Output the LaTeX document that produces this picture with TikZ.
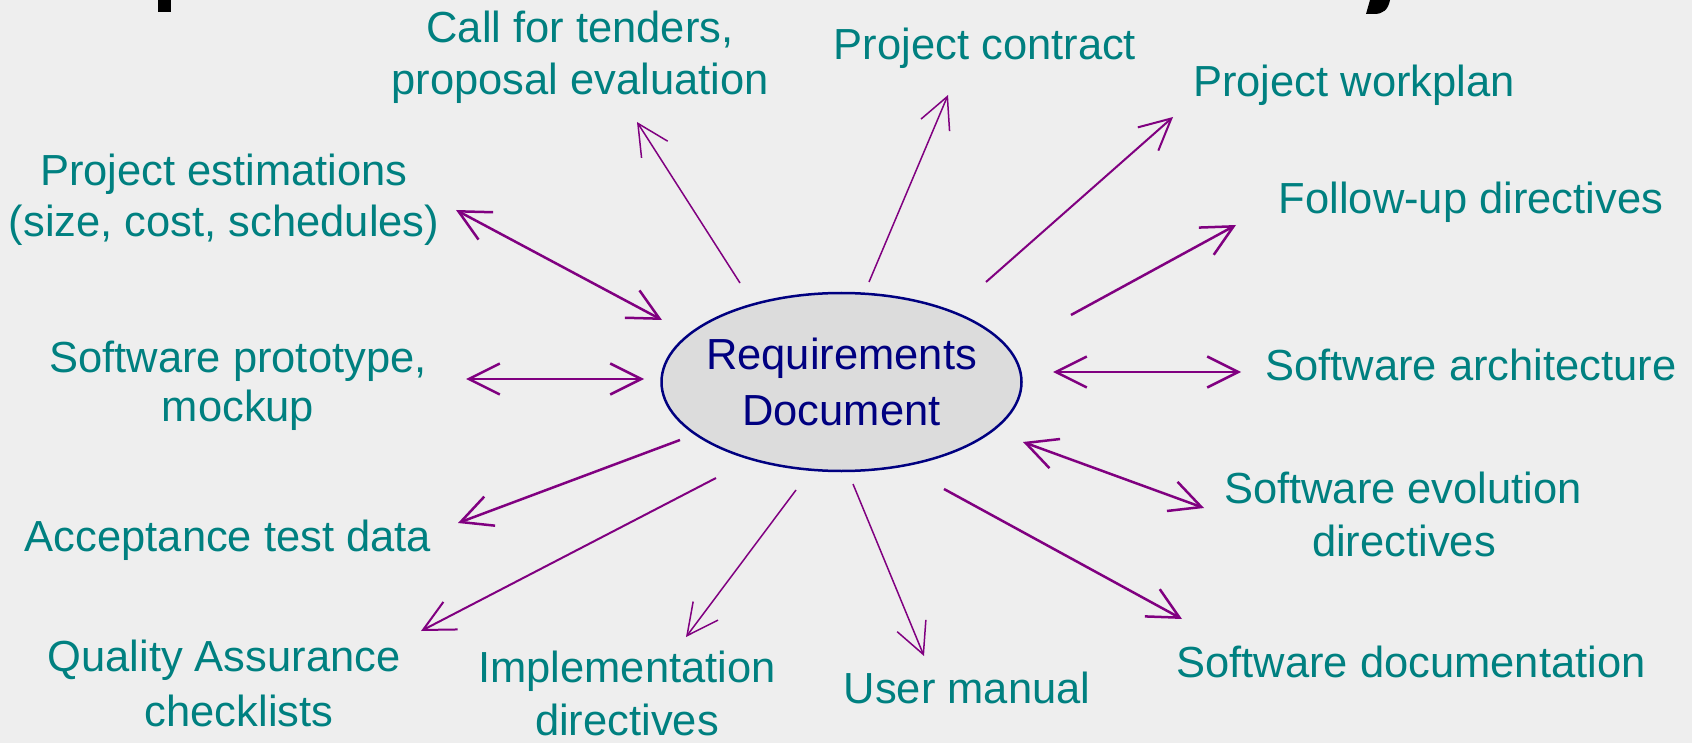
\documentclass[tikz,border=0pt]{standalone}
\usepackage{fontspec}
\setmainfont{Liberation Sans}
\usetikzlibrary{arrows.meta,shapes.geometric}
\definecolor{bg}{RGB}{238,238,238}
\definecolor{tealtxt}{RGB}{0,128,128}
\definecolor{navytxt}{RGB}{0,0,128}
\definecolor{purp}{RGB}{128,0,128}
\definecolor{ellfill}{RGB}{220,220,220}
\begin{document}
\begin{tikzpicture}[x=1pt,y=-1pt,
  lbl/.style={text=tealtxt, font=\fontsize{43.5}{53}\selectfont, anchor=base, inner sep=0pt},
  conn/.style={draw=purp, line width=2pt, -{Straight Barb[length=31pt,width=31pt]}},
  biconn/.style={draw=purp, line width=2.5pt, {Straight Barb[length=31pt,width=31pt]}-{Straight Barb[length=31pt,width=31pt]}},
  thin/.style={line width=1.5pt},
  thick/.style={line width=2.5pt}
]
\fill[bg] (0,0) rectangle (1692,743);
\useasboundingbox (0,0) rectangle (1692,743);

% cut-off title fragments
\fill[black] (158,0) rectangle (171,12);
\fill[black] (1370,0) -- (1390,0) .. controls (1388,10) and (1383,14) .. (1374,14) -- (1366,14) -- (1368,7) -- cycle;

% central ellipse
\node[ellipse, draw=navytxt, fill=ellfill, line width=2.5pt, minimum width=360pt, minimum height=178pt,
      inner xsep=-12pt, inner ysep=0pt, align=center, text=navytxt, font=\fontsize{43.5}{56}\selectfont] (req) at (841.5,382)
      {Requirements\\Document};

% labels
\node[lbl] (cft1) at (580,43) {Call for tenders,};
\node[lbl] (cft2) at (580,95) {proposal evaluation};
\node[lbl] (pc) at (985,60) {Project contract};
\node[lbl] (pw) at (1354,97) {Project workplan};
\node[lbl] (pe1) at (224,186) {Project estimations};
\node[lbl] (pe2) at (224,237) {(size, cost, schedules)};
\node[lbl] (fu) at (1471,214) {Follow-up directives};
\node[lbl] (sp1) at (238,372) {Software prototype,};
\node[lbl] (sp2) at (238,421) {mockup};
\node[lbl] (sa) at (1471,380) {Software architecture};
\node[lbl] (se1) at (1403,503) {Software evolution};
\node[lbl] (se2) at (1404,556) {directives};
\node[lbl] (at) at (228,551) {Acceptance test data};
\node[lbl] (qa1) at (224,671) {Quality Assurance};
\node[lbl] (qa2) at (239,726) {checklists};
\node[lbl] (im1) at (627,682) {Implementation};
\node[lbl] (im2) at (627,735) {directives};
\node[lbl] (um) at (967,703) {User manual};
\node[lbl] (sd) at (1411,677) {Software documentation};

% connector end points
\coordinate (a1s) at (740,283);  \coordinate (a1e) at (637,122);
\coordinate (a2s) at (869,282);  \coordinate (a2e) at (948,95);
\coordinate (a3s) at (986,282);  \coordinate (a3e) at (1173,117);
\coordinate (a4s) at (1071,315); \coordinate (a4e) at (1236,225);
\coordinate (a5s) at (1053,372); \coordinate (a5e) at (1241,372);
\coordinate (a6s) at (1023,442); \coordinate (a6e) at (1204,508);
\coordinate (a7s) at (944,489);  \coordinate (a7e) at (1182,619);
\coordinate (a8s) at (853,484);  \coordinate (a8e) at (924,656);
\coordinate (a9s) at (796,490);  \coordinate (a9e) at (686,637);
\coordinate (a10s) at (716,478); \coordinate (a10e) at (421,631);
\coordinate (a11s) at (680,440); \coordinate (a11e) at (458,523);
\coordinate (a12s) at (644,379); \coordinate (a12e) at (466,379);
\coordinate (a13s) at (662,320); \coordinate (a13e) at (456,210);

% connectors
\draw[conn,thin] (a1s) -- (a1e);
\draw[conn,thin] (a2s) -- (a2e);
\draw[conn] (a3s) -- (a3e);
\draw[conn,thick] (a4s) -- (a4e);
\draw[biconn] (a5s) -- (a5e);
\draw[biconn] (a6s) -- (a6e);
\draw[conn,thick] (a7s) -- (a7e);
\draw[conn,thin] (a8s) -- (a8e);
\draw[conn,thin] (a9s) -- (a9e);
\draw[conn] (a10s) -- (a10e);
\draw[conn,thick] (a11s) -- (a11e);
\draw[biconn] (a12s) -- (a12e);
\draw[biconn] (a13s) -- (a13e);
\end{tikzpicture}
\end{document}
